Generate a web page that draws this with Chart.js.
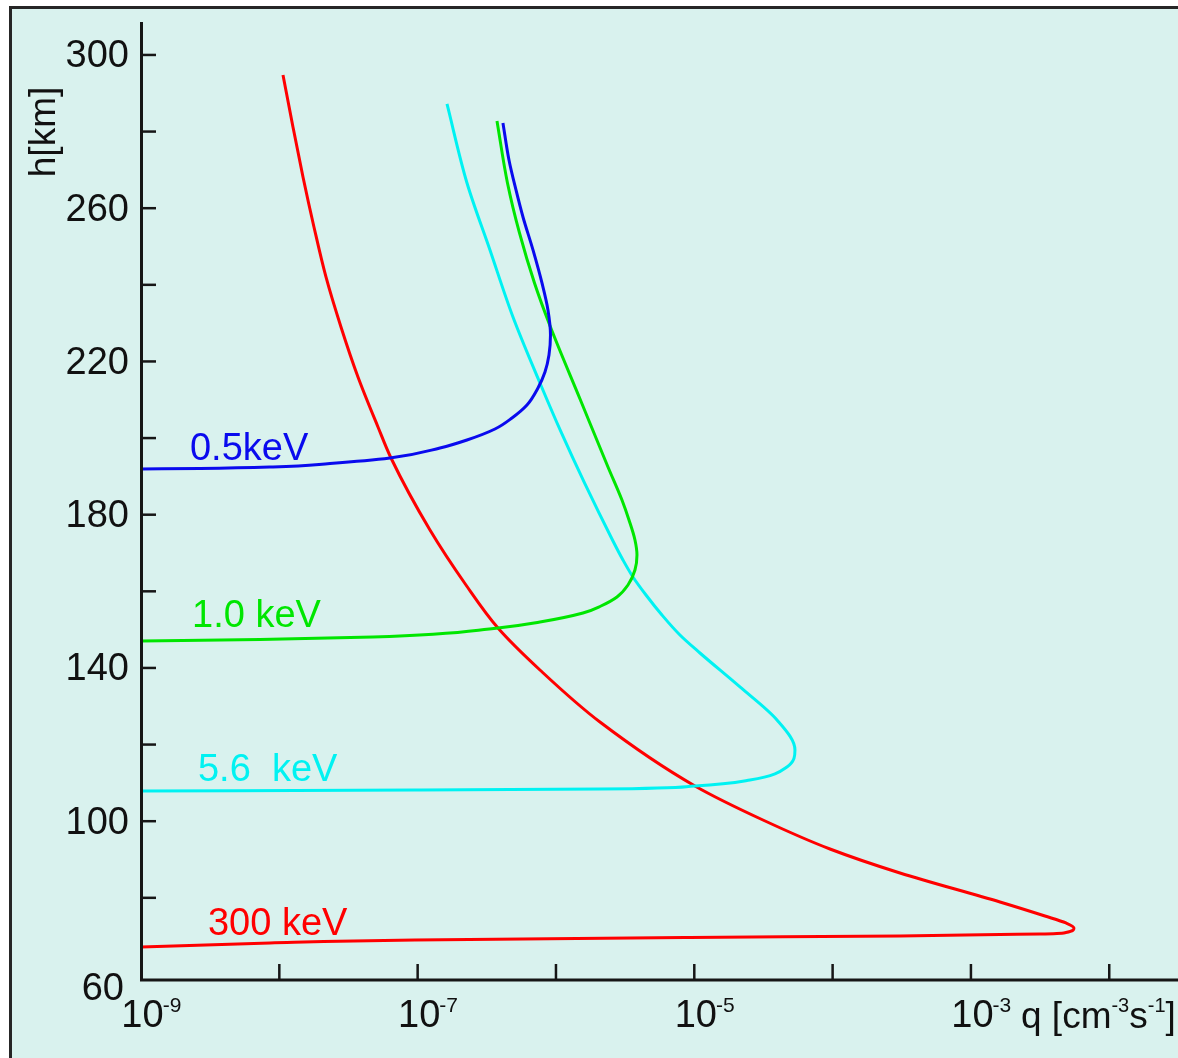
<!DOCTYPE html>
<html>
<head>
<meta charset="utf-8">
<script src="https://cdn.jsdelivr.net/npm/chart.js@4.4.1/dist/chart.umd.min.js"></script>
<style>
html,body{margin:0;padding:0;background:#ffffff;}
#wrap{width:1178px;height:1058px;position:relative;overflow:hidden;}
canvas{display:block;}
</style>
</head>
<body>
<div id="wrap"><canvas id="c" width="1178" height="1058"></canvas></div>
<script>
// ---- data: q [cm^-3 s^-1] vs h [km] ----
const seriesNames = ['0.5keV', '1.0 keV', '5.6  keV', '300 keV'];

const q05 = [4.137e-7, 4.574e-7, 5.140e-7, 5.774e-7, 6.821e-7, 7.921e-7, 8.751e-7, 9.127e-7, 8.903e-7, 8.330e-7, 7.413e-7, 6.172e-7, 4.808e-7, 3.623e-7, 2.274e-7, 1.450e-7, 6.310e-8, 2.324e-8, 9.00e-9, 2.669e-9, 1.0e-9];
const h05 = [282.25, 272.59, 264.76, 257.71, 249.10, 240.48, 233.44, 226.91, 221.69, 217.25, 213.08, 208.64, 205.25, 202.37, 199.50, 197.42, 194.80, 193.37, 192.46, 192.06, 191.93];

const q10 = [3.746e-7, 4.461e-7, 5.447e-7, 6.993e-7, 9.127e-7, 1.503e-6, 2.377e-6, 3.000e-6, 3.372e-6, 3.725e-6, 3.852e-6, 3.725e-6, 3.316e-6, 2.761e-6, 2.115e-6, 1.568e-6, 7.662e-7, 3.808e-7, 4.753e-8, 7.25e-9, 1.0e-9];
const h10 = [282.77, 266.59, 253.54, 240.48, 229.00, 209.94, 192.46, 183.84, 178.62, 173.40, 169.49, 165.57, 161.65, 158.52, 156.17, 154.34, 151.99, 150.43, 148.08, 147.43, 147.04];

const q56 = [1.630e-7, 2.274e-7, 3.333e-7, 4.888e-7, 7.662e-7, 1.096e-6, 1.608e-6, 2.562e-6, 3.050e-6, 3.602e-6, 4.474e-6, 5.838e-6, 7.877e-6, 1.099e-5, 2.139e-5, 3.961e-5, 5.343e-5, 4.677e-5, 2.526e-5, 1.011e-5, 2.080e-6, 9.565e-8, 1.0e-9];
const h56 = [287.21, 266.59, 249.10, 231.61, 214.38, 201.33, 188.28, 173.40, 168.18, 163.74, 159.04, 153.82, 148.60, 143.90, 135.03, 126.41, 118.58, 114.15, 110.75, 109.19, 108.40, 108.14, 107.88];

const q300 = [1.063e-8, 1.255e-8, 1.483e-8, 1.780e-8, 2.174e-8, 2.791e-8, 3.704e-8, 5.168e-8, 6.417e-8, 1.228e-7, 2.236e-7, 3.808e-7, 7.662e-7, 2.080e-6, 1.011e-5, 3.136e-5, 9.570e-5, 3.069e-4, 1.622e-3, 3.428e-3, 4.863e-3, 5.556e-3, 4.863e-3, 3.155e-3, 1.622e-3, 3.069e-4, 9.307e-6, 9.565e-8, 8.56e-9, 1.0e-9];
const h300 = [294.78, 281.21, 268.15, 255.10, 242.05, 229.00, 215.95, 202.90, 194.80, 176.01, 161.65, 150.43, 139.47, 125.89, 109.19, 100.31, 92.74, 86.48, 78.91, 75.25, 73.43, 72.12, 70.95, 70.55, 70.42, 70.03, 69.64, 68.99, 68.21, 67.16];

// series label anchors (q, h) – text start / baseline
const labelQ = [2.26e-9, 2.34e-9, 2.58e-9, 3.05e-9];
const labelH = [194.3, 150.7, 110.5, 70.3];

// axes
const yTickValues = [300, 280, 260, 240, 220, 200, 180, 160, 140, 120, 100, 80];
const yLabelValues = [300, 260, 220, 180, 140, 100, 60];
const xTickExponents = [-8, -7, -6, -5, -4, -3, -2];
const xLabelExponents = [-9, -7, -5, -3];
const xTitle = 'q [cm';
const yTitle = 'h[km]';

// ---- styles ----
const COLORS = ['#0a0aee', '#00e600', '#00f2f2', '#ff0000'];
const BG = '#d9f2ee';
const FONT = '"Liberation Sans", Arial, Helvetica, sans-serif';

function pts(qs, hs) { return qs.map((q, i) => ({ x: q, y: hs[i] })); }
const seriesData = [pts(q05, h05), pts(q10, h10), pts(q56, h56), pts(q300, h300)];

const decor = {
  id: 'decor',
  beforeDraw(chart) {
    const c = chart.ctx;
    c.save();
    c.fillStyle = '#ffffff';
    c.fillRect(0, 0, chart.width, chart.height);
    c.fillStyle = BG;
    c.fillRect(10, 7, chart.width - 10, chart.height - 7);
    c.strokeStyle = '#262626';
    c.lineWidth = 3;
    c.beginPath();
    c.moveTo(10.5, chart.height);
    c.lineTo(10.5, 7.5);
    c.lineTo(chart.width, 7.5);
    c.stroke();
    c.restore();
  },
  afterDatasetsDraw(chart) {
    const c = chart.ctx, a = chart.chartArea, x = chart.scales.x, y = chart.scales.y;
    c.save();
    c.strokeStyle = '#161616';
    c.lineWidth = 3;
    c.lineCap = 'butt';
    c.beginPath();
    c.moveTo(a.left + 0.5, a.top);
    c.lineTo(a.left + 0.5, a.bottom);
    c.lineTo(a.right, a.bottom);
    c.stroke();
    c.lineWidth = 2.5;
    yTickValues.forEach(v => {
      const py = y.getPixelForValue(v);
      c.beginPath(); c.moveTo(a.left, py); c.lineTo(a.left + 15, py); c.stroke();
    });
    xTickExponents.forEach(e => {
      const px = x.getPixelForValue(Math.pow(10, e));
      c.beginPath(); c.moveTo(px, a.bottom); c.lineTo(px, a.bottom - 16); c.stroke();
    });

    // y labels
    c.fillStyle = '#111111';
    c.font = '38px ' + FONT;
    c.textAlign = 'right';
    c.textBaseline = 'alphabetic';
    yLabelValues.forEach((v, i) => {
      const py = y.getPixelForValue(v);
      if (i === yLabelValues.length - 1) {
        c.fillText(String(v), a.left - 17, py + 26);
      } else {
        c.fillText(String(v), a.left - 12, py + 12.5);
      }
    });

    // x labels with superscripts
    xLabelExponents.forEach(e => {
      const px = x.getPixelForValue(Math.pow(10, e));
      c.font = '38px ' + FONT;
      c.textAlign = 'center';
      c.fillText('10', px + 1.5, a.bottom + 47);
      const w = c.measureText('10').width;
      c.font = '21px ' + FONT;
      c.textAlign = 'left';
      c.fillText(String(e), px + 1.5 + w / 2 - 1, a.bottom + 32);
    });

    // x title q [cm^-3 s^-1]
    let tx = 1021;
    const tb = a.bottom + 48;
    const parts = [[xTitle, 37, 0], ['-3', 20, -16], ['s', 37, 0], ['-1', 20, -16], [']', 37, 0]];
    c.textAlign = 'left';
    parts.forEach(p => {
      c.font = p[1] + 'px ' + FONT;
      c.fillText(p[0], tx, tb + p[2]);
      tx += c.measureText(p[0]).width;
    });

    // y title
    c.save();
    c.translate(55, 132);
    c.rotate(-Math.PI / 2);
    c.font = '37px ' + FONT;
    c.textAlign = 'center';
    c.fillText(yTitle, 0, 0);
    c.restore();

    // series labels
    c.font = '38px ' + FONT;
    c.textAlign = 'left';
    seriesNames.forEach((n, i) => {
      c.fillStyle = COLORS[i];
      c.fillText(n, x.getPixelForValue(labelQ[i]), y.getPixelForValue(labelH[i]));
    });
    c.restore();
  }
};

new Chart(document.getElementById('c'), {
  type: 'scatter',
  data: {
    datasets: seriesData.map((d, i) => ({
      label: seriesNames[i],
      data: d,
      indexAxis: 'y',
      showLine: true,
      borderColor: COLORS[i],
      backgroundColor: COLORS[i],
      borderWidth: 3,
      pointRadius: 0,
      cubicInterpolationMode: 'monotone',
      fill: false
    }))
  },
  options: {
    indexAxis: 'y',
    responsive: false,
    animation: false,
    devicePixelRatio: 1,
    layout: { padding: { left: 141, top: 22, right: 0, bottom: 78 } },
    plugins: { legend: { display: false }, tooltip: { enabled: false } },
    scales: {
      x: { type: 'logarithmic', min: 1e-9, max: Math.pow(10, -1.503), display: false },
      y: { type: 'linear', min: 58.55, max: 308.6, display: false }
    }
  },
  plugins: [decor]
});
</script>
</body>
</html>
